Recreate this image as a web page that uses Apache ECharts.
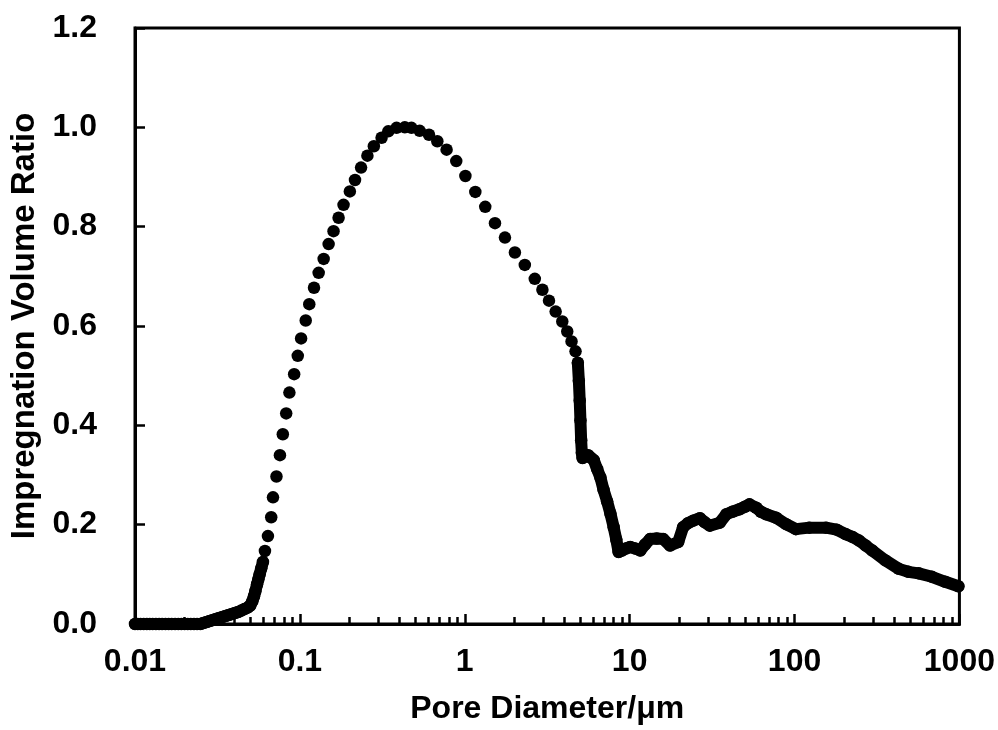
<!DOCTYPE html>
<html>
<head>
<meta charset="utf-8">
<script src="https://cdn.jsdelivr.net/npm/echarts@6/dist/echarts.min.js"></script>
<style>
html,body{margin:0;padding:0;background:#fff;}
#chart{width:998px;height:730px;}
</style>
</head>
<body>
<div id="chart"></div>
<script>
// ---- data ----
// dense low-diameter segment (µm, ratio)
var lowX = [0.0100,0.0104,0.0108,0.0113,0.0118,0.0123,0.0128,0.0134,0.0140,0.0146,0.0153,0.0160,0.0167,0.0175,0.0183,0.0191,0.0200,0.0209,0.0218,0.0228,0.0238,0.0249,0.0260,0.0272,0.0284,0.0297,0.0310,0.0324,0.0339,0.0354,0.0370,0.0387,0.0404,0.0422,0.0441,0.0461,0.0482,0.0500,0.0515,0.0527,0.0537,0.0550,0.0560,0.0570,0.0583,0.0597];
var lowY = [0,0,0,0,0,0,0,0,0,0,0,0,0,0,0,0,0,0,0,0,0,0,0.002,0.004,0.006,0.008,0.010,0.012,0.014,0.016,0.018,0.020,0.022,0.024,0.027,0.030,0.033,0.037,0.046,0.056,0.066,0.080,0.090,0.100,0.112,0.125];
// sparse middle segment
var midX = [0.0614,0.0640,0.0670,0.0687,0.0721,0.0757,0.0788,0.0826,0.0864,0.0923,0.0971,0.1017,0.1085,0.1140,0.1218,0.1300,0.1394,0.1494,0.1600,0.1717,0.1840,0.2010,0.2160,0.2350,0.2568,0.2810,0.3130,0.3437,0.3857,0.4328,0.4750,0.5330,0.6070,0.6817,0.7760,0.8880,1.009,1.159,1.331,1.525,1.753,2.014,2.313,2.659,2.958,3.242,3.558,3.904,4.184,4.443,4.697];
var midY = [0.147,0.177,0.215,0.255,0.297,0.340,0.382,0.424,0.466,0.503,0.540,0.575,0.611,0.644,0.677,0.707,0.735,0.765,0.791,0.818,0.844,0.871,0.894,0.919,0.943,0.962,0.979,0.992,0.999,1.000,0.999,0.993,0.985,0.972,0.955,0.932,0.902,0.870,0.840,0.807,0.778,0.748,0.723,0.695,0.673,0.651,0.629,0.609,0.589,0.569,0.549];
// dense high-diameter segment
var highX = [4.85,4.92,4.98,5.03,5.08,5.13,5.18,5.25,5.40,5.60,5.80,6.06,6.35,6.65,6.95,7.30,7.65,8.00,8.30,8.57,9.00,9.50,10.08,10.8,11.6,12.4,13.3,14.6,16.0,17.6,19.7,21.1,22.6,24.3,26.7,28.5,30.6,35.2,38.6,42.0,46.4,50.0,53.3,58.6,62.5,67.3,77.3,88.9,102,122.8,155,180,204,225,246,270,296,356,429,490,566,681,820,986];
var highY = [0.526,0.490,0.450,0.410,0.370,0.345,0.334,0.336,0.340,0.340,0.335,0.330,0.312,0.295,0.270,0.247,0.222,0.195,0.170,0.145,0.148,0.152,0.155,0.152,0.148,0.160,0.171,0.172,0.171,0.158,0.165,0.195,0.203,0.208,0.213,0.205,0.198,0.204,0.221,0.226,0.231,0.236,0.241,0.234,0.226,0.221,0.214,0.201,0.191,0.194,0.194,0.190,0.181,0.175,0.168,0.158,0.148,0.128,0.111,0.105,0.102,0.095,0.085,0.076];
// axis ticks
var xTickLabels = ['0.01','0.1','1','10','100','1000'];
var xMinorTicks = [0.02,0.03,0.04,0.05,0.06,0.07,0.08,0.09,0.2,0.3,0.4,0.5,0.6,0.7,0.8,0.9,2,3,4,5,6,7,8,9,20,30,40,50,60,70,80,90,200,300,400,500,600,700,800,900];

function zip(a, b) { return a.map(function (v, i) { return [v, b[i]]; }); }

var FONT = '"Liberation Sans", Arial, sans-serif';
var DOT = 12.5;
var chart = echarts.init(document.getElementById('chart'), null, {renderer: 'canvas'});
chart.setOption({
  animation: false,
  backgroundColor: '#fff',
  grid: {left: 132, right: 37, top: 28, bottom: 99, show: true, borderColor: '#000', borderWidth: 3, backgroundColor: 'transparent'},
  xAxis: [{
    type: 'log', logBase: 10, min: 0.01, max: 1000,
    name: 'Pore Diameter/μm', nameLocation: 'middle', nameGap: 69,
    nameTextStyle: {fontFamily: FONT, fontWeight: 'bold', fontSize: 32, color: '#000'},
    axisLine: {show: true, lineStyle: {color: '#000', width: 3}},
    axisTick: {show: true, inside: true, length: 10, lineStyle: {color: '#000', width: 2.5}},
    minorTick: {show: false},
    splitLine: {show: false},
    axisLabel: {
      margin: 22, fontFamily: FONT, fontWeight: 'bold', fontSize: 32, color: '#000',
      formatter: function (v) { var i = Math.round(Math.log10(v)) + 2; return xTickLabels[i] || ''; }
    },
    z: 4
  }, {
    // minor ticks only
    type: 'log', logBase: 10, min: 0.01, max: 1000, position: 'bottom', offset: 0,
    axisLine: {show: false},
    axisTick: {show: true, inside: true, length: 7, customValues: xMinorTicks, lineStyle: {color: '#000', width: 2.5}},
    axisLabel: {show: false},
    splitLine: {show: false},
    z: 4
  }],
  yAxis: {
    type: 'value', min: 0, max: 1.2, interval: 0.2,
    name: 'Impregnation Volume Ratio', nameLocation: 'middle', nameGap: 94,
    nameTextStyle: {fontFamily: FONT, fontWeight: 'bold', fontSize: 33, color: '#000'},
    axisLine: {show: true, lineStyle: {color: '#000', width: 3}},
    axisTick: {show: true, inside: true, length: 10, lineStyle: {color: '#000', width: 2.5}},
    splitLine: {show: false},
    axisLabel: {
      margin: 38, fontFamily: FONT, fontWeight: 'bold', fontSize: 32, color: '#000',
      formatter: function (v) { return v.toFixed(1); }
    }
  },
  series: [
    {
      type: 'line', data: zip(lowX, lowY), clip: false,
      symbol: 'circle', symbolSize: DOT, showSymbol: true, showAllSymbol: true,
      lineStyle: {color: '#000', width: 12, cap: 'round', join: 'round', opacity: 1},
      itemStyle: {color: '#000', opacity: 1}, z: 3
    },
    {
      type: 'scatter', data: zip(midX, midY), clip: false,
      symbol: 'circle', symbolSize: DOT,
      itemStyle: {color: '#000', opacity: 1}, z: 3
    },
    {
      type: 'line', data: zip(highX, highY), clip: false,
      symbol: 'circle', symbolSize: DOT, showSymbol: true, showAllSymbol: true,
      lineStyle: {color: '#000', width: 12, cap: 'round', join: 'round', opacity: 1},
      itemStyle: {color: '#000', opacity: 1}, z: 3
    }
  ]
});
</script>
</body>
</html>
